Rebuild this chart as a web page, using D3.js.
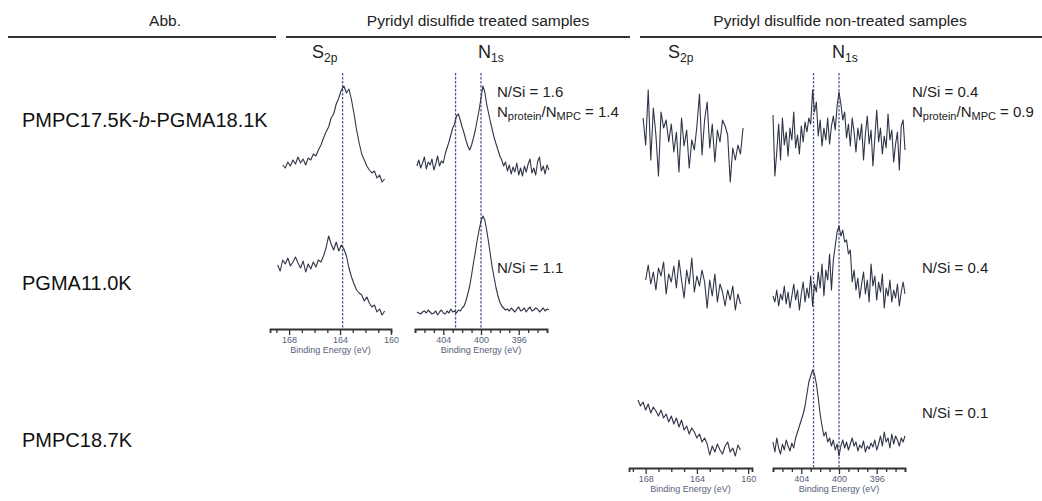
<!DOCTYPE html>
<html>
<head>
<meta charset="utf-8">
<script src="https://cdn.jsdelivr.net/npm/d3@7"></script>
<style>
body { margin: 0; background: #fff; }
svg { font-family: "Liberation Sans", Arial, sans-serif; }
</style>
</head>
<body>
<div id="chart"></div>
<script>
// Muestras (filas) y textos
var samples = ["PMPC17.5K-", "PGMA11.0K", "PMPC18.7K"];
var headers = ["Abb.", "Pyridyl disulfide treated samples", "Pyridyl disulfide non-treated samples"];

// Energias de referencia (lineas punteadas)
var s2pRef = [163.8];
var n1sRef = [402.7, 400.0];

// Etiquetas de los ejes
var s2pTicks = [168, 164, 160];
var n1sTicks = [404, 400, 396];

// Paso de energia de los espectros (eV)
var stepEV = 0.2;

// Espectros tratados - PMPC17.5K-b-PGMA18.1K
var tS2p_block_start = 168.5;
var tS2p_block = [25,22,28,24,30,26,33,27,31,25,32,30,36,34,40,45,52,58,63,72,76,86,92,100,104,97,101,90,76,60,47,36,30,24,20,17,19,12,15,8,11];
var tN1s_block_start = 406.8;
var tN1s_block = [24,30,22,27,33,21,28,25,31,20,26,34,24,29,27,36,42,48,55,62,66,74,76,70,63,57,50,44,40,45,52,60,70,80,92,104,98,86,77,68,60,52,46,40,34,30,24,28,19,25,16,23,18,27,15,22,14,24,18,26,31,17,22,15,28,33,19,24,16,25,20];

// Espectros tratados - PGMA11.0K
var tS2p_pgma_start = 168.9;
var tS2p_pgma = [55,49,60,56,62,54,58,63,57,52,59,48,56,51,58,53,60,58,64,72,84,76,70,78,69,75,71,64,52,43,36,30,27,25,19,23,17,13,15,8,11,5,9];
var tN1s_pgma_start = 406.8;
var tN1s_pgma = [8,7,6,8,9,7,10,8,6,7,9,5,8,10,7,6,9,7,11,8,9,7,10,9,12,14,19,26,34,45,57,68,80,90,99,104,100,90,78,65,52,42,32,24,18,14,12,10,11,9,12,10,8,11,13,9,10,12,8,11,13,9,10,12,11,8,10,12,9,11,10];

// Espectros no tratados - PMPC17.5K-b-PGMA18.1K
var nS2p_block_start = 168.2;
var nS2p_block = [72,45,100,30,82,55,14,78,62,70,48,66,38,58,18,72,44,60,22,50,40,64,96,35,70,88,42,66,28,60,48,70,64,55,8,42,30,45,36,62];
var nN1s_block_start = 407.0;
var nN1s_block = [75,14,38,66,30,72,45,58,34,62,50,78,42,55,36,64,48,68,58,72,66,100,78,88,54,70,44,62,50,72,46,64,74,60,84,98,86,70,78,52,66,44,72,58,38,62,50,66,30,56,74,46,60,24,52,80,48,62,36,54,42,76,50,60,28,46,58,20,64,70,40];

// Espectros no tratados - PGMA11.0K
var nS2p_pgma_start = 168.0;
var nS2p_pgma = [40,55,36,48,30,52,44,58,26,46,38,54,32,60,40,22,50,36,62,28,44,34,50,38,12,40,24,46,18,36,28,14,30,20,34,10,26,16];
var nN1s_pgma_start = 407.0;
var nN1s_pgma = [24,18,30,14,26,20,34,16,28,12,24,36,20,30,10,26,38,18,32,22,44,14,36,28,48,32,56,24,50,40,66,30,60,74,88,94,84,90,78,80,66,70,38,50,30,42,22,36,48,26,40,18,56,34,44,20,38,28,46,12,32,24,40,18,30,22,36,14,28,38,26];

// Espectros no tratados - PMPC18.7K
var nS2p_pmpc_start = 168.6;
var nS2p_pmpc = [60,54,58,50,56,47,53,49,44,50,42,46,38,44,36,42,33,40,30,34,26,32,28,22,26,18,22,16,5,14,8,16,10,6,14,18,8,12,4,15,10];
var nN1s_pmpc_start = 407.0;
var nN1s_pmpc = [18,8,22,12,6,16,10,20,14,9,17,12,22,28,34,40,46,54,66,78,84,90,86,76,62,46,34,24,28,18,22,14,20,10,16,4,14,20,12,18,10,16,22,14,18,9,15,12,19,8,14,11,17,13,20,10,16,24,14,28,18,22,12,26,16,24,20,14,22,18,24];

// Textos de relacion N/Si
var ratios = [
    {col: "tN1s", row: 0, lines: ["N/Si = 1.6", "prot = 1.4"]},
    {col: "tN1s", row: 1, lines: ["N/Si = 1.1"]},
    {col: "nN1s", row: 0, lines: ["N/Si = 0.4", "prot = 0.9"]},
    {col: "nN1s", row: 1, lines: ["N/Si = 0.4"]},
    {col: "nN1s", row: 2, lines: ["N/Si = 0.1"]}
];

//Disposicion
var width = 1042, height = 501;
var rowBase = [190, 320, 460];
var cols = {
    tS2p: {domain: [169.5, 160], range: [270, 391], axisY: 329, ticks: s2pTicks, refs: s2pRef, refTop: 73, label: ["S", "2p"], lx: 312},
    tN1s: {domain: [407, 393], range: [415, 547], axisY: 329, ticks: n1sTicks, refs: n1sRef, refTop: 73, label: ["N", "1s"], lx: 478, tx: 497},
    nS2p: {domain: [169.3, 159.7], range: [629, 752], axisY: 468, ticks: s2pTicks, refs: [], refTop: 73, label: ["S", "2p"], lx: 668},
    nN1s: {domain: [407, 393], range: [773, 905], axisY: 468, ticks: n1sTicks, refs: n1sRef, refTop: 73, label: ["N", "1s"], lx: 832, tx: 912}
};

var spectra = [
    {col: "tS2p", row: 0, start: tS2p_block_start, y: tS2p_block},
    {col: "tN1s", row: 0, start: tN1s_block_start, y: tN1s_block},
    {col: "tS2p", row: 1, start: tS2p_pgma_start, y: tS2p_pgma},
    {col: "tN1s", row: 1, start: tN1s_pgma_start, y: tN1s_pgma},
    {col: "nS2p", row: 0, start: nS2p_block_start, y: nS2p_block},
    {col: "nN1s", row: 0, start: nN1s_block_start, y: nN1s_block},
    {col: "nS2p", row: 1, start: nS2p_pgma_start, y: nS2p_pgma},
    {col: "nN1s", row: 1, start: nN1s_pgma_start, y: nN1s_pgma},
    {col: "nS2p", row: 2, start: nS2p_pmpc_start, y: nS2p_pmpc},
    {col: "nN1s", row: 2, start: nN1s_pmpc_start, y: nN1s_pmpc}
];

var svg = d3.select("#chart").append("svg")
    .attr("width", width)
    .attr("height", height);

// Encabezados
var headX = [165, 478, 840];
headers.forEach(function(h, i) {
    svg.append("text")
        .attr("x", headX[i]).attr("y", 26)
        .attr("text-anchor", "middle")
        .attr("font-size", 15.5)
        .attr("fill", "#222")
        .text(h);
});
[[8, 276], [286, 630], [640, 1042]].forEach(function(s) {
    svg.append("line")
        .attr("x1", s[0]).attr("x2", s[1])
        .attr("y1", 37).attr("y2", 37)
        .attr("stroke", "#333").attr("stroke-width", 2.2);
});

// Nombres de las muestras
var labelY = [127, 290, 447];
samples.forEach(function(s, i) {
    var t = svg.append("text")
        .attr("x", 22).attr("y", labelY[i])
        .attr("font-size", 20)
        .attr("fill", "#111");
    t.append("tspan").text(s);
    if (i == 0) {
        t.append("tspan").attr("font-style", "italic").text("b");
        t.append("tspan").text("-PGMA18.1K");
    }
});

// Columnas: titulo, eje, lineas de referencia
Object.keys(cols).forEach(function(k) {
    var c = cols[k];
    var x = d3.scaleLinear().domain(c.domain).range(c.range);
    c.x = x;

    var lab = svg.append("text")
        .attr("x", c.lx).attr("y", 58)
        .attr("font-size", 18)
        .attr("fill", "#222");
    lab.append("tspan").text(c.label[0]);
    lab.append("tspan").attr("font-size", 12).attr("dy", 4).text(c.label[1]);

    var tv = d3.range(Math.ceil(d3.min(c.domain)), Math.floor(d3.max(c.domain)) + 1);
    var ax = svg.append("g")
        .attr("transform", "translate(0," + c.axisY + ")")
        .call(d3.axisBottom(x).tickValues(tv).tickSize(4).tickSizeOuter(4)
            .tickFormat(function(d) { return c.ticks.indexOf(d) >= 0 ? d : ""; }));
    ax.select(".domain").attr("stroke", "#333").attr("stroke-width", 1.8);
    ax.selectAll(".tick line").attr("stroke", "#333").attr("stroke-width", 1.3)
        .attr("y2", function(d) { return c.ticks.indexOf(d) >= 0 ? 6 : 4; });
    ax.selectAll(".tick text").attr("font-size", 9).attr("fill", "#56607a").attr("y", 8)
        .attr("font-family", "Liberation Sans, Arial, sans-serif");

    svg.append("text")
        .attr("x", (c.range[0] + c.range[1]) / 2).attr("y", c.axisY + 24)
        .attr("text-anchor", "middle")
        .attr("font-size", 9)
        .attr("fill", "#56607a")
        .text("Binding Energy (eV)");

    c.refs.forEach(function(r) {
        svg.append("line")
            .attr("x1", x(r)).attr("x2", x(r))
            .attr("y1", c.refTop).attr("y2", c.axisY)
            .attr("stroke", "#4a5a8e")
            .attr("stroke-width", 1.3)
            .attr("stroke-dasharray", "2.5,1.5");
    });
});

// Espectros
spectra.forEach(function(s) {
    var c = cols[s.col];
    var y = d3.scaleLinear().domain([0, 100]).range([rowBase[s.row], rowBase[s.row] - 100]);
    var line = d3.line()
        .x(function(d, i) { return c.x(s.start - i * stepEV); })
        .y(function(d) { return y(d); });
    svg.append("path")
        .datum(s.y)
        .attr("d", line)
        .attr("fill", "none")
        .attr("stroke", "#2f3447")
        .attr("stroke-width", 1.1)
        .attr("stroke-linejoin", "round");
});

// Relaciones N/Si
ratios.forEach(function(r) {
    var c = cols[r.col];
    var x0 = c.tx + (r.row > 0 && r.col == "nN1s" ? 10 : 0);
    var yy = [97, 273, 418][r.row];
    var t = svg.append("text").attr("x", x0).attr("y", yy).attr("font-size", 15).attr("fill", "#222")
        .text(r.lines[0]);
    if (r.lines.length > 1) {
        var t2 = svg.append("text").attr("x", x0).attr("y", yy + 20).attr("font-size", 15).attr("fill", "#222");
        t2.append("tspan").text("N");
        t2.append("tspan").attr("font-size", 11).attr("dy", 3).text("protein");
        t2.append("tspan").attr("dy", -3).text("/N");
        t2.append("tspan").attr("font-size", 11).attr("dy", 3).text("MPC");
        t2.append("tspan").attr("dy", -3).text(r.lines[1].replace("prot", ""));
    }
});
</script>
</body>
</html>
